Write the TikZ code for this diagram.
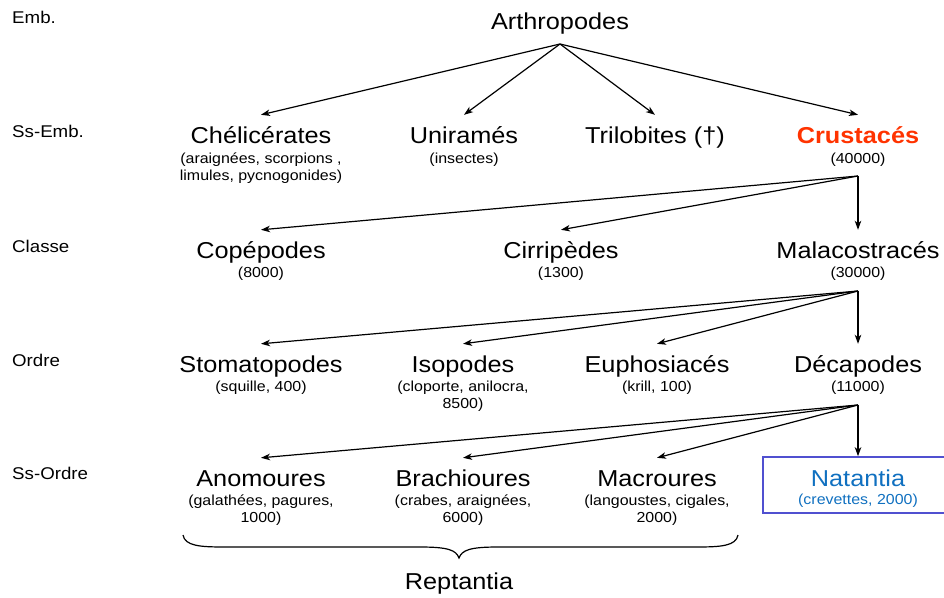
\documentclass[tikz,border=0pt]{standalone}
\usepackage{fontspec}
\setmainfont{Liberation Sans}[FakeStretch=1.1]
\usetikzlibrary{arrows.meta}
\definecolor{crred}{RGB}{255,51,0}
\definecolor{natblue}{RGB}{16,112,192}
\definecolor{boxblue}{RGB}{80,80,208}
\tikzset{
  lvl/.style={anchor=base west, font=\fontsize{17}{20}\selectfont, inner sep=0pt},
  taxon/.style={anchor=base, font=\fontsize{23}{27}\selectfont, text height=16pt, text depth=5pt, inner xsep=0pt, inner ysep=12pt},
  subt/.style={anchor=base, font=\fontsize{14.5}{17}\selectfont, align=center, inner sep=0pt},
  arr/.style={line width=1.2pt, -{Stealth[length=9pt,width=6.5pt,inset=2.5pt]}},
  conn/.style={line width=1.2pt},
}
\begin{document}
\begin{tikzpicture}[x=1pt,y=-1pt]
\useasboundingbox (0,0) rectangle (944,597);
% level labels
\node[lvl] (l1) at (12,23) {Emb.};
\node[lvl] (l2) at (12,137) {Ss-Emb.};
\node[lvl] (l3) at (12,252) {Classe};
\node[lvl] (l4) at (12,366) {Ordre};
\node[lvl] (l5) at (12,479) {Ss-Ordre};
% row 1
\node[taxon] (arth) at (560,29) {Arthropodes};
\coordinate (b1) at (560,44);
% row 2
\node[taxon] (chel) at (261,143) {Chélicérates};
\node[subt] (chels) at (261,180) {(araignées, scorpions ,\\limules, pycnogonides)};
\node[taxon] (unir) at (464,143) {Uniramés};
\node[subt] (unirs) at (464,163) {(insectes)};
\node[taxon] (tril) at (655,143) {Trilobites (†)};
\node[taxon, text=crred, font=\fontsize{23}{27}\selectfont\bfseries] (crus) at (858,143) {Crustacés};
\node[subt] (cruss) at (858,163) {(40000)};
\coordinate (b2) at (858,176);
% row 3
\node[taxon] (cope) at (261,258) {Copépodes};
\node[subt] (copes) at (261,277) {(8000)};
\node[taxon] (cirr) at (561,258) {Cirripèdes};
\node[subt] (cirrs) at (561,277) {(1300)};
\node[taxon] (mala) at (858,258) {Malacostracés};
\node[subt] (malas) at (858,277) {(30000)};
\coordinate (b3) at (858,291);
% row 4
\node[taxon] (stom) at (261,372) {Stomatopodes};
\node[subt] (stoms) at (261,391) {(squille, 400)};
\node[taxon] (isop) at (463,372) {Isopodes};
\node[subt] (isops) at (463,408) {(cloporte, anilocra,\\8500)};
\node[taxon] (euph) at (657,372) {Euphosiacés};
\node[subt] (euphs) at (657,391) {(krill, 100)};
\node[taxon] (deca) at (858,372) {Décapodes};
\node[subt] (decas) at (858,391) {(11000)};
\coordinate (b4) at (858,405);
% row 5
\node[taxon] (anom) at (261,486) {Anomoures};
\node[subt] (anoms) at (261,522) {(galathées, pagures,\\1000)};
\node[taxon] (brac) at (463,486) {Brachioures};
\node[subt] (bracs) at (463,522) {(crabes, araignées,\\6000)};
\node[taxon] (macr) at (657,486) {Macroures};
\node[subt] (macrs) at (657,522) {(langoustes, cigales,\\2000)};
\node[draw=boxblue, line width=1.6pt, minimum width=194pt, minimum height=56pt, inner sep=0pt] (nat) at (860,485) {};
\node[taxon, text=natblue] (natt) at (858,486) {Natantia};
\node[subt, text=natblue] (nats) at (858,504) {(crevettes, 2000)};
% arrows
\foreach \t in {chel,unir,tril,crus} \draw[arr] (b1) -- (\t.north);
\foreach \t in {cope,cirr,mala} \draw[arr] (b2) -- (\t.north);
\foreach \t in {stom,isop,euph,deca} \draw[arr] (b3) -- (\t.north);
\foreach \t in {anom,brac,macr} \draw[arr] (b4) -- (\t.north);
\draw[arr] (b4) -- (b4 |- nat.north);
% brace
\coordinate (bl) at (183,535);
\coordinate (br) at (738,535);
\coordinate (bt) at (459,558);
\draw[line width=1.2pt] (bl) .. controls (185,546) and (200,547) .. (225,547) -- (420,547) .. controls (448,547) and (456,550) .. (bt)
  .. controls (462,550) and (470,547) .. (498,547) -- (696,547) .. controls (721,547) and (736,546) .. (br);
\node[taxon, inner ysep=0pt] (rept) at (459,589) {Reptantia};
\end{tikzpicture}
\end{document}
